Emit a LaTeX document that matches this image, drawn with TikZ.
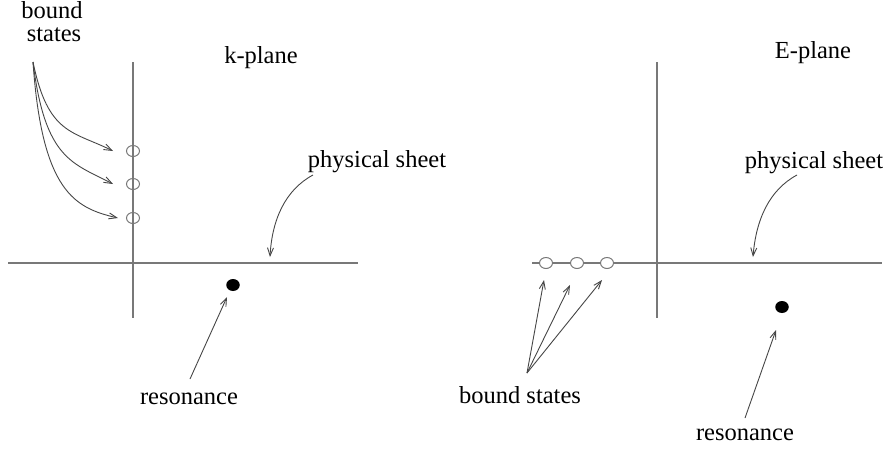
\documentclass[tikz,border=0pt]{standalone}
\usepackage{fontspec}
\setmainfont{Liberation Serif}
\newfontfamily\tms{Liberation Serif}
\usetikzlibrary{arrows.meta,shapes.geometric}
\definecolor{axisgray}{RGB}{120,120,120}
\definecolor{arrowgray}{RGB}{70,70,70}
\begin{document}
\begin{tikzpicture}[x=1pt,y=-1pt,
  axisline/.style={draw=axisgray,line width=1.3pt},
  pointer/.style={draw=arrowgray,line width=0.9pt,-{Straight Barb[length=8pt,width=6pt]}},
  lbl/.style={font=\tms\fontsize{24.5}{29}\selectfont,anchor=base,inner sep=0pt},
  pole/.style={ellipse,draw=axisgray,line width=1pt,minimum width=13pt,minimum height=11pt,inner sep=0pt},
  res/.style={ellipse,fill=black,minimum width=13.5pt,minimum height=12pt,inner sep=0pt}]
\useasboundingbox (0,0) rectangle (887,451);
% ---------- k-plane ----------
\coordinate (kxl) at (8,263);
\coordinate (kxr) at (358,263);
\coordinate (kyt) at (133,62);
\coordinate (kyb) at (133,318);
\draw[axisline] (kxl) -- (kxr);
\draw[axisline] (kyt) -- (kyb);
\node[pole] (kb1) at (133,151) {};
\node[pole] (kb2) at (133,184) {};
\node[pole] (kb3) at (133,218) {};
\node[res] (kr) at (233,285) {};
\node[lbl] (kbound) at (52,18) {bound};
\node[lbl] (kstates) at (54,41) {states};
\node[lbl] (kplane) at (261,63) {k-plane};
\node[lbl] (kphys) at (377,167) {physical sheet};
\node[lbl] (kreso) at (189,404) {resonance};
\coordinate (kbs) at (33,62);
\coordinate (ke1) at (113,151);
\coordinate (ke2) at (113,184);
\coordinate (ke3) at (118,218);
\draw[pointer] (kbs) .. controls (48,135) and (73,131) .. (ke1);
\draw[pointer] (kbs) .. controls (45,160) and (73,163) .. (ke2);
\draw[pointer] (kbs) .. controls (42,192) and (75,208) .. (ke3);
\coordinate (kps) at (313,175);
\coordinate (kpe) at (270,257);
\draw[pointer] (kps) .. controls (285,190) and (272,220) .. (kpe);
\coordinate (krs) at (190,379);
\coordinate (kre) at (227,297);
\draw[pointer] (krs) -- (kre);
% ---------- E-plane ----------
\coordinate (exl) at (532,263);
\coordinate (exr) at (882,263);
\coordinate (eyt) at (657,62);
\coordinate (eyb) at (657,318);
\draw[axisline] (exl) -- (exr);
\draw[axisline] (eyt) -- (eyb);
\node[pole,fill=white] (eb1) at (546,263) {};
\node[pole,fill=white] (eb2) at (577,263) {};
\node[pole,fill=white] (eb3) at (607,263) {};
\node[res] (er) at (782,307) {};
\node[lbl] (eplane) at (813,58) {E-plane};
\node[lbl] (ephys) at (814,168) {physical sheet};
\node[lbl] (ebound) at (520,403) {bound states};
\node[lbl] (ereso) at (745,440) {resonance};
\coordinate (ebs) at (527,373);
\coordinate (ee1) at (544,280);
\coordinate (ee2) at (570,285);
\coordinate (ee3) at (602,280);
\draw[pointer] (ebs) -- (ee1);
\draw[pointer] (ebs) -- (ee2);
\draw[pointer] (ebs) -- (ee3);
\coordinate (eps) at (797,175);
\coordinate (epe) at (753,257);
\draw[pointer] (eps) .. controls (769,190) and (756,220) .. (epe);
\coordinate (ers) at (745,418);
\coordinate (ere) at (776,330);
\draw[pointer] (ers) -- (ere);
\end{tikzpicture}
\end{document}
